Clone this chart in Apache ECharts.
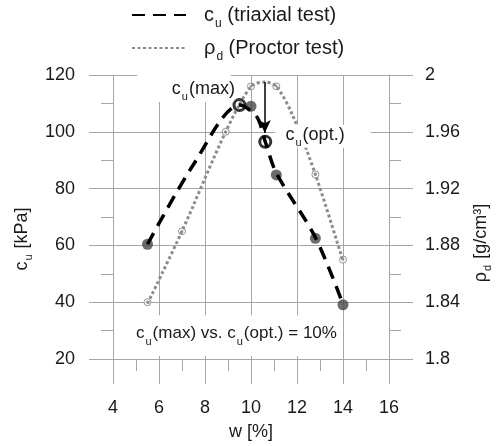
<!DOCTYPE html>
<html><head><meta charset="utf-8">
<script src="https://cdn.jsdelivr.net/npm/echarts@6/dist/echarts.min.js"></script>
<style>html,body{margin:0;padding:0;background:#fff}#c{width:501px;height:446px}</style>
</head><body><div id="c"></div>
<script>
// ---- data ----
const xTicks = [4, 6, 8, 10, 12, 14, 16];
const cuTicks = [20, 40, 60, 80, 100, 120];
const rhoTicks = [1.8, 1.84, 1.88, 1.92, 1.96, 2.0];
// c_u trend curve (triaxial test)
const cuCurveW = [5.5, 7.5, 9.5, 10.25, 10.62, 11.1, 12.8, 14.0];
const cuCurveV = [60.4, 88.5, 109.4, 105.3, 96.5, 85.5, 62.8, 39.3];
// c_u measured points
const cuPointW = [5.5, 10.0, 11.1, 12.8, 14.0];
const cuPointV = [60.4, 109.0, 84.8, 62.5, 39.1];
// highlighted points
const cuMax = [9.5, 109.4];
const cuOpt = [10.62, 96.5];
// rho_d trend curve (Proctor test)
const rhoCurveW = [5.5, 7.0, 8.9, 10.0, 10.6, 11.1, 11.8, 12.8, 14.0];
const rhoCurveV = [1.839, 1.890, 1.960, 1.992, 1.995, 1.992, 1.972, 1.930, 1.869];
// rho_d measured points
const rhoPointW = [5.5, 7.0, 8.9, 10.0, 11.1, 12.8, 14.0];
const rhoPointV = [1.840, 1.890, 1.960, 1.992, 1.992, 1.930, 1.870];
// arrow from Proctor optimum down to c_u(opt.)
const arrowW = 10.6, arrowFrom = 117.5, arrowTo = 99.6;

const FONT = 'Liberation Sans, Arial, sans-serif';
const TXT = '#1a1a1a';
const GRID = '#a6a6a6';
const zip = (a, b) => a.map((v, i) => [v, b[i]]);

const chart = echarts.init(document.getElementById('c'), null, {renderer: 'canvas'});

const axisCommon = {
  type: 'value',
  axisLine: {show: true, lineStyle: {color: GRID, width: 1}},
  axisTick: {show: true, inside: false, length: 24, lineStyle: {color: GRID, width: 1}},
  minorTick: {show: true, splitNumber: 2, length: 12, lineStyle: {color: GRID, width: 1}},
  splitLine: {show: true, lineStyle: {color: GRID, width: 1}},
  minorSplitLine: {show: false},
  axisLabel: {fontSize: 18, color: TXT, fontFamily: FONT},
  nameTextStyle: {fontSize: 18, color: TXT, fontFamily: FONT}
};
const subRich = {
  a: {fontSize: 18, color: TXT, fontFamily: FONT},
  s: {fontSize: 11, color: TXT, fontFamily: FONT, verticalAlign: 'bottom', padding: [0, 1, -3, 1]}
};

const option = {
  animation: false,
  backgroundColor: '#fff',
  grid: {left: 113, right: 102, top: 75, bottom: 86},
  legend: {
    orient: 'vertical', left: 126, top: 0,
    itemWidth: 54, itemHeight: 16, itemGap: 8,
    data: ['cu', 'rho'],
    itemStyle: {color: 'rgba(0,0,0,0)', borderWidth: 0, opacity: 0},
    formatter: n => n === 'cu' ? '{p|}{a|c}{s|u}{a| (triaxial test)}' : '{p|}{a|ρ}{s|d}{a| (Proctor test)}',
    textStyle: {
      rich: {
        p: {width: 13},
        a: {fontSize: 20, color: TXT, fontFamily: FONT, lineHeight: 24},
        s: {fontSize: 12, color: TXT, fontFamily: FONT, verticalAlign: 'bottom', padding: [0, 0, -3, 1]}
      }
    }
  },
  xAxis: Object.assign({}, axisCommon, {
    min: xTicks[0], max: xTicks[xTicks.length - 1], interval: 2,
    axisTick: Object.assign({}, axisCommon.axisTick, {length: 25}),
    axisLabel: Object.assign({}, axisCommon.axisLabel, {margin: 40}),
    name: 'w [%]', nameLocation: 'middle', nameGap: 64
  }),
  yAxis: [
    Object.assign({}, axisCommon, {
      min: cuTicks[0], max: cuTicks[cuTicks.length - 1], interval: 20,
      axisLabel: Object.assign({}, axisCommon.axisLabel, {margin: 38}),
      name: 'c{s|u} [kPa]', nameLocation: 'middle', nameGap: 68,
      nameTextStyle: {fontSize: 18, color: TXT, fontFamily: FONT, rich: subRich, padding: [0, 44, 0, 0]}
    }),
    Object.assign({}, axisCommon, {
      position: 'right',
      min: rhoTicks[0], max: rhoTicks[rhoTicks.length - 1], interval: 0.04,
      axisLabel: Object.assign({}, axisCommon.axisLabel, {margin: 36,
        formatter: v => String(parseFloat(v.toFixed(2)))}),
      splitLine: {show: false},
      name: 'ρ{s|d} [g/cm³]', nameLocation: 'middle', nameGap: 83,
      nameTextStyle: {fontSize: 18, color: TXT, fontFamily: FONT, rich: subRich, padding: [0, 52, 0, 0]}
    })
  ],
  series: [
    {
      name: 'rho', type: 'line', yAxisIndex: 1, symbol: 'none',
      smooth: 0.3,
      data: zip(rhoCurveW, rhoCurveV),
      lineStyle: {color: '#8c8c8c', width: 3, type: [3, 2.5]},
      itemStyle: {color: '#8c8c8c'}
    },
    {
      name: 'cu', type: 'line', yAxisIndex: 0, symbol: 'none',
      smooth: 0.3,
      data: zip(cuCurveW, cuCurveV),
      lineStyle: {color: '#000', width: 3.5, type: [13, 8]},
      itemStyle: {color: '#000'}
    },
    {
      name: 'rhoPts', type: 'scatter', yAxisIndex: 1, symbol: 'circle', symbolSize: 7,
      data: zip(rhoPointW, rhoPointV),
      itemStyle: {color: '#fff', borderColor: '#7a7a7a', borderWidth: 1}
    },
    {
      name: 'rhoDots', type: 'scatter', yAxisIndex: 1, symbol: 'circle', symbolSize: 2.5,
      data: zip(rhoPointW, rhoPointV),
      itemStyle: {color: '#7a7a7a'}
    },
    {
      name: 'cuPts', type: 'scatter', yAxisIndex: 0, symbol: 'circle', symbolSize: 11,
      data: zip(cuPointW, cuPointV),
      itemStyle: {color: '#474747'}
    },
    {
      name: 'cuKey', type: 'scatter', yAxisIndex: 0, symbol: 'circle', symbolSize: 11,
      data: [cuMax, cuOpt],
      itemStyle: {color: '#fff', borderColor: '#000', borderWidth: 3},
      markLine: {
        silent: true, symbol: ['none', 'arrow'], symbolSize: [9, 13],
        lineStyle: {color: '#000', width: 1.5, type: 'solid'},
        label: {show: false},
        data: [[{coord: [arrowW, arrowFrom]}, {coord: [arrowW, arrowTo]}]]
      }
    }
  ]
};
chart.setOption(option);

// annotation boxes and texts positioned in data coordinates
const px = (w, c) => chart.convertToPixel({xAxisIndex: 0, yAxisIndex: 0}, [w, c]);
function box(w0, c0, w1, c1) {
  const p0 = px(w0, c0), p1 = px(w1, c1);
  return {type: 'rect', z: 10, silent: true,
    shape: {x: p0[0], y: p0[1], width: p1[0] - p0[0], height: p1[1] - p0[1]},
    style: {fill: '#fff'}};
}
function label(w, c, text, align, fs) {
  const p = px(w, c);
  const rich = {
    a: {fontSize: fs, fill: TXT, fontFamily: FONT, lineHeight: 22},
    s: {fontSize: 11, fill: TXT, fontFamily: FONT, verticalAlign: 'bottom', padding: [0, 1, -3, 1], lineHeight: 14}
  };
  return {type: 'text', z: 11, silent: true, x: p[0], y: p[1],
    style: {text: text, rich: rich, align: align, verticalAlign: 'middle', fill: TXT, font: fs + 'px ' + FONT}};
}
chart.setOption({
  graphic: [
    box(5.05, 121.75, 9.12, 110.5),
    box(11.05, 102.5, 15.2, 94.4),
    box(4.5, 35.4, 13.74, 21.05),
    label(9.3, 115.1, '{a|c}{s|u}{a|(max)}', 'right', 18),
    label(11.5, 98.95, '{a|c}{s|u}{a|(opt.)}', 'left', 18),
    label(5.0, 29.1, '{a|c}{s|u}{a|(max) vs. c}{s|u}{a|(opt.) = 10%}', 'left', 17)
  ]
});
</script>
</body></html>
